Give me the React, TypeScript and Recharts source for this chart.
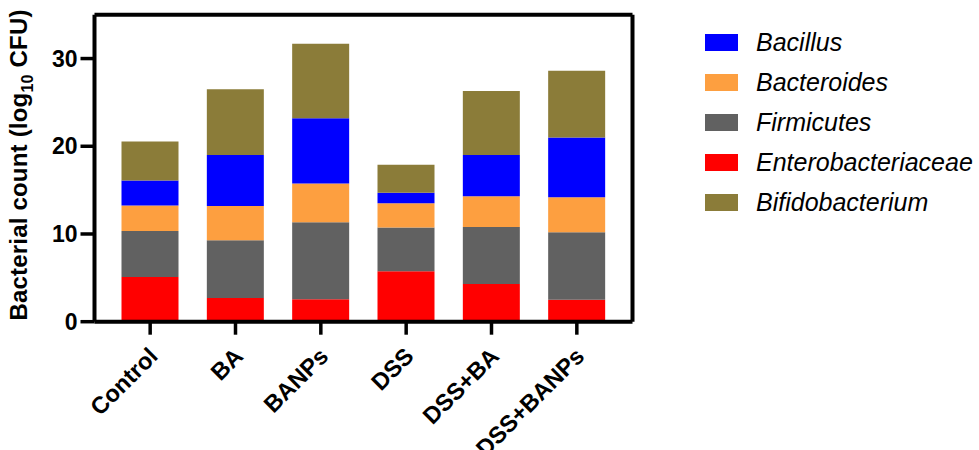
import { BarChart, Bar, XAxis, YAxis, ReferenceLine } from 'recharts';

const categories = ['Control', 'BA', 'BANPs', 'DSS', 'DSS+BA', 'DSS+BANPs'];
const enterobacteriaceae = [5.1, 2.7, 2.55, 5.75, 4.3, 2.5];
const firmicutes = [5.25, 6.6, 8.8, 5.0, 6.5, 7.7];
const bacteroides = [2.9, 3.9, 4.4, 2.75, 3.5, 4.0];
const bacillus = [2.85, 5.8, 7.45, 1.2, 4.7, 6.8];
const bifidobacterium = [4.45, 7.5, 8.5, 3.2, 7.3, 7.6];
const yTicks = [0, 10, 20, 30];

// stacking order, bottom to top
const stackSeries = [
  { key: 'Enterobacteriaceae', values: enterobacteriaceae, color: '#ff0000' },
  { key: 'Firmicutes', values: firmicutes, color: '#616161' },
  { key: 'Bacteroides', values: bacteroides, color: '#fd9f40' },
  { key: 'Bacillus', values: bacillus, color: '#0000ff' },
  { key: 'Bifidobacterium', values: bifidobacterium, color: '#8b7c39' },
];
const legendOrder = ['Bacillus', 'Bacteroides', 'Firmicutes', 'Enterobacteriaceae', 'Bifidobacterium'];

const data = categories.map((name, i) => {
  const row: Record<string, string | number> = { name };
  stackSeries.forEach((s) => (row[s.key] = s.values[i]));
  return row;
});

const FONT = '"Liberation Sans", Arial, sans-serif';

function XTick({ x, y, payload }: any) {
  return (
    <text
      transform={`translate(${x + 9},${y + 21}) rotate(-45)`}
      textAnchor="end"
      fontFamily={FONT}
      fontWeight="bold"
      fontSize={23.5}
      fill="#000"
    >
      {payload.value}
    </text>
  );
}

function YLabel() {
  return (
    <text
      transform="translate(27,165) rotate(-90)"
      textAnchor="middle"
      fontFamily={FONT}
      fontWeight="bold"
      fontSize={24}
      letterSpacing={0.2}
      fill="#000"
    >
      <tspan>Bacterial count (log</tspan>
      <tspan fontSize={16} dy={6}>10</tspan>
      <tspan dy={-6}> CFU)</tspan>
    </text>
  );
}

const tickStyle = { fontFamily: FONT, fontWeight: 'bold', fontSize: 23, fill: '#000' };

export default function App() {
  return (
    <div style={{ position: 'absolute', left: 0, top: 0, width: 979, height: 450, background: '#fff' }}>
      <BarChart
        width={979}
        height={450}
        data={data}
        margin={{ top: 14.7, right: 286.5, bottom: 28.3, left: 34.5 }}
      >
        <XAxis
          dataKey="name"
          padding={{ left: 13, right: 13 }}
          height={100}
          interval={0}
          tick={<XTick />}
          tickSize={13}
          axisLine={{ stroke: '#000', strokeWidth: 4 }}
          tickLine={{ stroke: '#000', strokeWidth: 3.5 }}
        />
        <YAxis
          yAxisId="left"
          domain={[0, 35]}
          ticks={yTicks}
          width={60}
          tickSize={14}
          tickMargin={3}
          tick={tickStyle}
          axisLine={{ stroke: '#000', strokeWidth: 4 }}
          tickLine={{ stroke: '#000', strokeWidth: 3.5 }}
          label={<YLabel />}
        />
        <YAxis
          yAxisId="right"
          orientation="right"
          domain={[0, 35]}
          ticks={yTicks}
          width={60}
          tickSize={11}
          tickMargin={7}
          tick={{ ...tickStyle, textAnchor: 'start' }}
          axisLine={{ stroke: '#000', strokeWidth: 4 }}
          tickLine={{ stroke: '#000', strokeWidth: 3.5 }}
        />
        <ReferenceLine yAxisId="left" y={35} stroke="#000" strokeWidth={4} />
        {stackSeries.map((s) => (
          <Bar
            key={s.key}
            dataKey={s.key}
            yAxisId="left"
            stackId="a"
            fill={s.color}
            barSize={57}
            isAnimationActive={false}
          />
        ))}
      </BarChart>
      <div style={{ position: 'absolute', left: 705, top: 22, fontFamily: FONT }}>
        {legendOrder.map((key) => {
          const s = stackSeries.find((d) => d.key === key)!;
          return (
            <div key={key} style={{ display: 'flex', alignItems: 'center', height: 40 }}>
              <div style={{ width: 33, height: 17, background: s.color }} />
              <span style={{ marginLeft: 18, fontSize: 25, fontStyle: 'italic', color: '#000' }}>{key}</span>
            </div>
          );
        })}
      </div>
    </div>
  );
}
